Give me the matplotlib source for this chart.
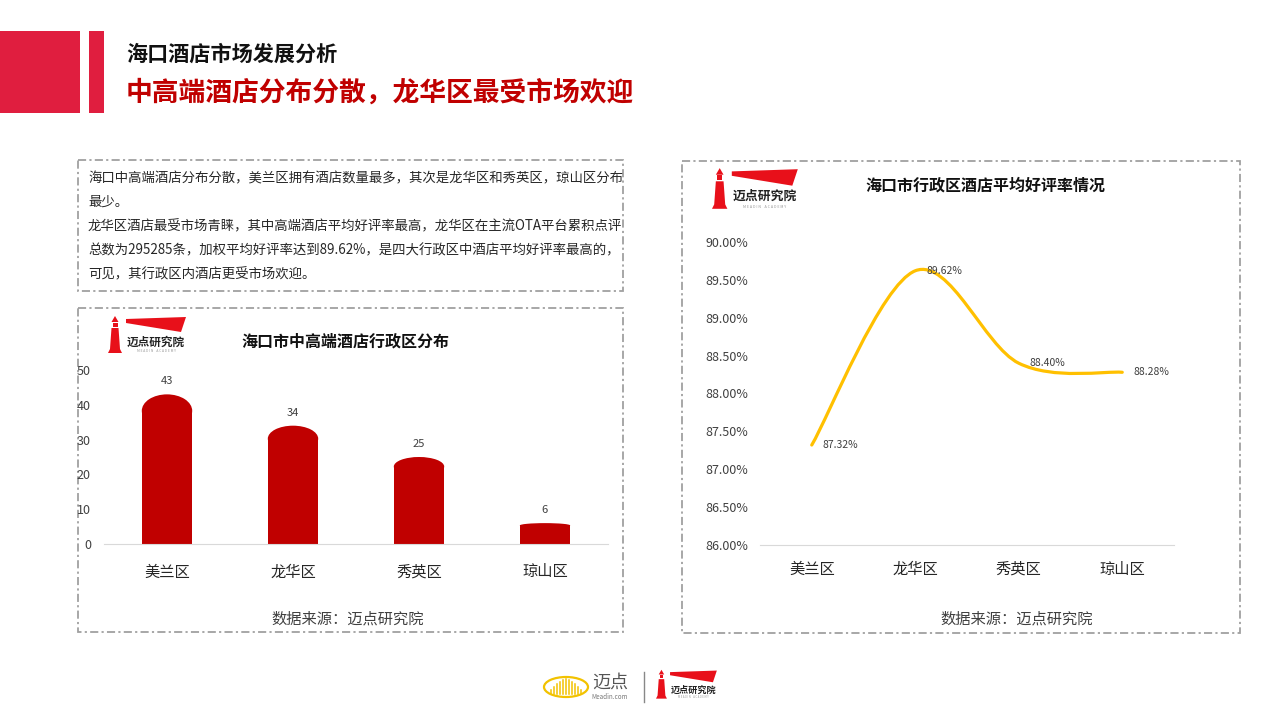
import numpy as np
import matplotlib
matplotlib.use('Agg')
import matplotlib.pyplot as plt
from matplotlib.patches import Rectangle, Polygon, Ellipse, PathPatch
from matplotlib.path import Path

plt.rcParams['font.family'] = ['Noto Sans CJK SC', 'DejaVu Sans']

# 数据
districts = ['美兰区', '龙华区', '秀英区', '琼山区']
hotel_counts = [43, 34, 25, 6]
good_rates = [87.32, 89.62, 88.40, 88.28]
count_ticks = [0, 10, 20, 30, 40, 50]
rate_ticks = [86.0, 86.5, 87.0, 87.5, 88.0, 88.5, 89.0, 89.5, 90.0]

header = '海口酒店市场发展分析'
headline = '中高端酒店分布分散，龙华区最受市场欢迎'
summary_lines = [
    '海口中高端酒店分布分散，美兰区拥有酒店数量最多，其次是龙华区和秀英区，琼山区分布',
    '最少。',
    '龙华区酒店最受市场青睐，其中高端酒店平均好评率最高，龙华区在主流OTA平台累积点评',
    '总数为295285条，加权平均好评率达到89.62%，是四大行政区中酒店平均好评率最高的，',
    '可见，其行政区内酒店更受市场欢迎。',
]
bar_title = '海口市中高端酒店行政区分布'
line_title = '海口市行政区酒店平均好评率情况'
source = '数据来源：迈点研究院'

W, H = 1280, 720
RED = '#E8101A'
fig = plt.figure(figsize=(12.8, 7.2), dpi=100)

# 背景层，像素坐标
bg = fig.add_axes([0, 0, 1, 1])
bg.set_xlim(0, W)
bg.set_ylim(H, 0)
bg.axis('off')


def px_axes(x0, y0, x1, y1):
    return fig.add_axes([x0 / W, 1 - y1 / H, (x1 - x0) / W, (y1 - y0) / H])


def dashed_box(x0, y0, x1, y1):
    bg.add_patch(Rectangle((x0, y0), x1 - x0, y1 - y0, fill=False, ec='#A0A0A0',
                           lw=1.3, linestyle=(0, (4.5, 1.8, 1.2, 1.8))))


def draw_logo(x0, y0, s):
    def tr(pts):
        return [(x0 + s * a, y0 + s * b) for a, b in pts]
    bg.add_patch(Polygon(tr([(0, 38), (14, 38), (12, 34), (10.5, 13), (3.5, 13), (2, 34)]), color=RED, lw=0))
    bg.add_patch(Polygon(tr([(4.5, 7.5), (9.5, 7.5), (9.5, 12), (4.5, 12)]), color=RED, lw=0))
    bg.add_patch(Polygon(tr([(3.5, 7), (7, 1), (10.5, 7)]), color=RED, lw=0))
    bg.add_patch(Polygon(tr([(18, 4), (78, 2), (73, 17), (18, 8)]), color=RED, lw=0))
    bg.text(x0 + s * 48, y0 + s * 27, '迈点研究院', fontsize=8.4 * s, fontweight='bold',
            color='#222222', ha='center', va='center')
    bg.text(x0 + s * 48, y0 + s * 36.5, 'M E A D I N    A C A D E M Y', fontsize=2.4 * s,
            color='#999999', ha='center', va='center')


# 页眉
bg.add_patch(Rectangle((0, 31), 80, 82, color='#E01E3F', lw=0))
bg.add_patch(Rectangle((89, 31), 15, 82, color='#E01E3F', lw=0))
bg.text(126, 54, header, fontsize=15.2, fontweight='bold', color='#111111', va='center')
bg.text(126, 93, headline, fontsize=19.3, fontweight='bold', color='#C00000', va='center')

# 文字说明框
dashed_box(78, 160, 623, 291)
for i, line in enumerate(summary_lines):
    bg.text(88, 178 + 24 * i, line, fontsize=9.65, color='#262626', va='center')

# 左图
dashed_box(78, 308, 623, 632)
draw_logo(108, 315, 1.0)
bg.text(345, 341, bar_title, fontsize=11.5, fontweight='bold', color='#111111', ha='center', va='center')
bg.text(348, 619, source, fontsize=11, color='#404040', ha='center', va='center')

ax1 = px_axes(104, 370, 608, 544)
xpos = np.arange(len(districts))
bar_w = 0.4
caps = [0.11 * v for v in hotel_counts]
ax1.bar(xpos, [v - c for v, c in zip(hotel_counts, caps)], width=bar_w, color='#C00000', lw=0)
for xi, v, c in zip(xpos, hotel_counts, caps):
    ax1.add_patch(Ellipse((xi, v - c), bar_w, 2 * c, color='#C00000', lw=0))
    ax1.annotate(str(v), (xi, v), xytext=(0, 9.4), textcoords='offset points',
                 ha='center', va='center', fontsize=8, color='#404040')
ax1.set_xlim(-0.5, 3.5)
ax1.set_ylim(0, 50)
ax1.set_yticks(count_ticks)
ax1.set_xticks(xpos, districts)
ax1.tick_params(axis='y', length=0, pad=9.4, labelsize=9, labelcolor='#404040')
ax1.tick_params(axis='x', length=0, pad=14, labelsize=11, labelcolor='#262626')
for side in ['top', 'right', 'left']:
    ax1.spines[side].set_visible(False)
ax1.spines['bottom'].set_color('#D9D9D9')
ax1.patch.set_alpha(0)

# 右图
dashed_box(682, 161, 1240, 633)
draw_logo(712, 167, 1.1)
bg.text(985, 186, line_title, fontsize=11.5, fontweight='bold', color='#111111', ha='center', va='center')
bg.text(1017, 619, source, fontsize=11, color='#404040', ha='center', va='center')

ax2 = px_axes(760, 242, 1174, 545)
pts = list(zip(xpos, good_rates))
n = len(pts)
verts = [pts[0]]
codes = [Path.MOVETO]
for i in range(n - 1):
    p0 = pts[max(i - 1, 0)]
    p1 = pts[i]
    p2 = pts[i + 1]
    p3 = pts[min(i + 2, n - 1)]
    c1 = (p1[0] + (p2[0] - p0[0]) / 6, p1[1] + (p2[1] - p0[1]) / 6)
    c2 = (p2[0] - (p3[0] - p1[0]) / 6, p2[1] - (p3[1] - p1[1]) / 6)
    verts += [c1, c2, p2]
    codes += [Path.CURVE4] * 3
ax2.add_patch(PathPatch(Path(verts, codes), fill=False, ec='#FFC000', lw=2.3, capstyle='round'))
for xi, v in zip(xpos, good_rates):
    ax2.annotate(f'{v:.2f}%', (xi, v), xytext=(8, 0), textcoords='offset points',
                 ha='left', va='center', fontsize=7.5, color='#404040')
ax2.set_xlim(-0.5, 3.5)
ax2.set_ylim(86, 90)
ax2.set_yticks(rate_ticks, [f'{t:.2f}%' for t in rate_ticks])
ax2.set_xticks(xpos, districts)
ax2.tick_params(axis='y', length=0, pad=8.6, labelsize=9, labelcolor='#404040')
ax2.tick_params(axis='x', length=0, pad=11.5, labelsize=11, labelcolor='#262626')
for side in ['top', 'right', 'left']:
    ax2.spines[side].set_visible(False)
ax2.spines['bottom'].set_color('#D9D9D9')
ax2.patch.set_alpha(0)

# 页脚标志
bg.add_patch(Ellipse((566, 687), 44, 20, fill=False, ec='#F2C200', lw=1.6))
for k, h in enumerate([4, 7, 10, 12, 14, 15, 14, 12, 10, 7, 4]):
    xx = 551 + 3 * k
    bg.plot([xx, xx], [694, 694 - h], color='#F2C200', lw=1.1)
bg.text(610, 683, '迈点', fontsize=13, color='#555555', ha='center', va='center')
bg.text(610, 697, 'Meadin.com', fontsize=4.5, color='#777777', ha='center', va='center')
bg.plot([644, 644], [672, 702], color='#888888', lw=1)
draw_logo(656, 669, 0.78)

fig.savefig('out.png', dpi=100)
